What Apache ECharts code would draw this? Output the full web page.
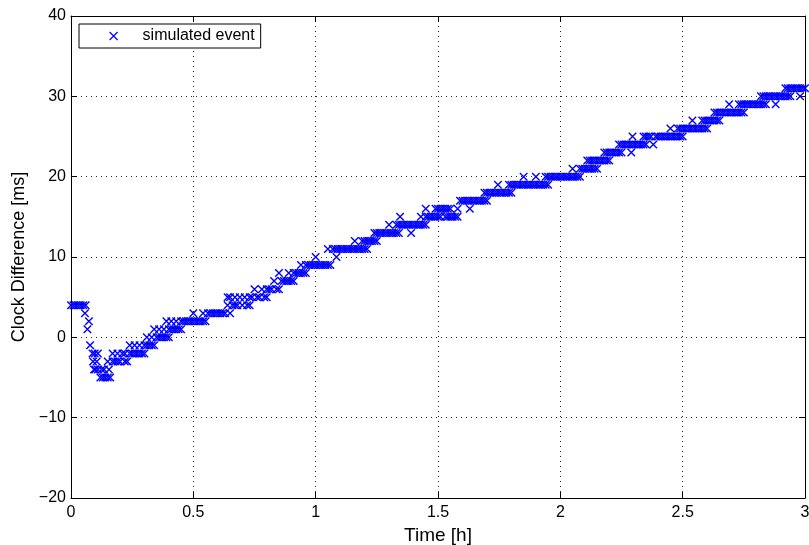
<!DOCTYPE html>
<html>
<head>
<meta charset="utf-8">
<script src="https://cdn.jsdelivr.net/npm/echarts@6/dist/echarts.min.js"></script>
<style>
html,body{margin:0;padding:0;background:#fff;}
#c{width:809px;height:545px;}
</style>
</head>
<body>
<div id="c"></div>
<script>
// Clock difference levels [ms] and the times [h] at which each level was observed
const levels = [4, 3, 2, 1, -1, -2, -3, -4, -5, 0, 5, 6, 7, 8, 9, 10, 11, 12, 13, 14, 15, 16, 17, 18, 19, 20, 21, 22, 23, 24, 25, 26, 27, 28, 29, 30, 31];
const levelTimes = [
  [0, 0.01, 0.02, 0.03, 0.04, 0.05, 0.06, 0.64, 0.66, 0.67, 0.68, 0.70, 0.72, 0.73],
  [0.057, 0.50, 0.54, 0.56, 0.57, 0.58, 0.59, 0.60, 0.61, 0.62, 0.63, 0.65],
  [0.073, 0.39, 0.41, 0.43, 0.45, 0.46, 0.47, 0.48, 0.49, 0.50, 0.51, 0.52, 0.53, 0.54, 0.55],
  [0.067, 0.34, 0.36, 0.38, 0.40, 0.41, 0.42, 0.43, 0.44, 0.45],
  [0.078, 0.24, 0.26, 0.28, 0.30, 0.31, 0.32, 0.33, 0.34],
  [0.088, 0.097, 0.11, 0.17, 0.19, 0.21, 0.22, 0.24, 0.25, 0.26, 0.27, 0.28, 0.29, 0.30],
  [0.09, 0.105, 0.15, 0.17, 0.18, 0.19, 0.20, 0.22, 0.23],
  [0.094, 0.10, 0.11, 0.125, 0.135, 0.155],
  [0.12, 0.13, 0.14, 0.15, 0.16],
  [0.31, 0.33, 0.35, 0.36, 0.37, 0.38, 0.39, 0.40],
  [0.64, 0.65, 0.67, 0.69, 0.71, 0.73, 0.74, 0.76, 0.77, 0.79, 0.80],
  [0.75, 0.78, 0.80, 0.81, 0.82, 0.84, 0.85],
  [0.83, 0.86, 0.87, 0.88, 0.89, 0.90, 0.91],
  [0.85, 0.89, 0.91, 0.92, 0.93, 0.94, 0.95, 0.96],
  [0.94, 0.96, 0.97, 0.98, 0.99, 1.00, 1.01, 1.02, 1.03, 1.04, 1.05, 1.06],
  [1.00, 1.085],
  [1.05, 1.07, 1.08, 1.09, 1.10, 1.11, 1.12, 1.13, 1.14, 1.15, 1.16, 1.17, 1.18, 1.19, 1.20, 1.21],
  [1.16, 1.19, 1.20, 1.21, 1.22, 1.23, 1.24, 1.25],
  [1.24, 1.25, 1.26, 1.27, 1.28, 1.29, 1.30, 1.31, 1.32, 1.33, 1.34, 1.39],
  [1.30, 1.33, 1.34, 1.35, 1.36, 1.37, 1.38, 1.39, 1.40, 1.41, 1.42, 1.43, 1.44, 1.45],
  [1.345, 1.43, 1.45, 1.46, 1.47, 1.48, 1.49, 1.50, 1.51, 1.53, 1.54, 1.55, 1.56, 1.57, 1.58],
  [1.45, 1.49, 1.50, 1.51, 1.52, 1.53, 1.54, 1.55, 1.58, 1.63],
  [1.59, 1.60, 1.61, 1.62, 1.63, 1.64, 1.65, 1.66, 1.67, 1.68, 1.69, 1.70],
  [1.69, 1.70, 1.71, 1.72, 1.73, 1.74, 1.75, 1.76, 1.77, 1.78, 1.79, 1.80],
  [1.745, 1.79, 1.80, 1.81, 1.82, 1.83, 1.84, 1.85, 1.86, 1.87, 1.88, 1.89, 1.90, 1.91, 1.92, 1.93, 1.94, 1.95],
  [1.85, 1.90, 1.94, 1.95, 1.96, 1.97, 1.98, 1.99, 2.00, 2.01, 2.02, 2.03, 2.04, 2.05, 2.06, 2.07, 2.08],
  [2.05, 2.08, 2.09, 2.10, 2.11, 2.12, 2.13, 2.14, 2.15],
  [2.11, 2.12, 2.13, 2.14, 2.15, 2.16, 2.17, 2.18, 2.19, 2.20],
  [2.18, 2.19, 2.20, 2.21, 2.22, 2.23, 2.24, 2.25, 2.29],
  [2.24, 2.25, 2.26, 2.27, 2.28, 2.29, 2.30, 2.31, 2.32, 2.33, 2.34, 2.35, 2.38],
  [2.295, 2.34, 2.35, 2.36, 2.37, 2.39, 2.40, 2.41, 2.42, 2.43, 2.44, 2.45, 2.46, 2.47, 2.48, 2.49, 2.50],
  [2.45, 2.48, 2.49, 2.50, 2.51, 2.52, 2.53, 2.54, 2.55, 2.56, 2.57, 2.58, 2.59, 2.60],
  [2.54, 2.58, 2.59, 2.60, 2.61, 2.62, 2.63, 2.64, 2.65],
  [2.63, 2.64, 2.65, 2.66, 2.67, 2.68, 2.69, 2.70, 2.71, 2.72, 2.73, 2.74, 2.75],
  [2.69, 2.73, 2.74, 2.75, 2.76, 2.77, 2.78, 2.79, 2.80, 2.81, 2.82, 2.83, 2.84, 2.88],
  [2.82, 2.83, 2.84, 2.85, 2.86, 2.87, 2.88, 2.89, 2.90, 2.91, 2.92, 2.93, 2.94, 2.98],
  [2.92, 2.93, 2.94, 2.95, 2.96, 2.97, 2.98, 2.99, 3.00]
];
const xTicks = [0, 0.5, 1, 1.5, 2, 2.5, 3];
const yTicks = [-20, -10, 0, 10, 20, 30, 40];
const seriesName = 'simulated event';

const points = [];
levels.forEach((lv, i) => levelTimes[i].forEach(t => points.push([t, lv])));

const xMark = 'path://M0,0L10,10M10,0L0,10';
const font = 'Liberation Sans, Arial, Helvetica, sans-serif';
const minus = v => String(v).replace('-', '\u2212');

const chart = echarts.init(document.getElementById('c'), null, {renderer: 'canvas'});
const axisCommon = {
  axisLine: {show: true, onZero: false, lineStyle: {color: '#000', width: 1}},
  axisTick: {show: true, inside: true, length: 6, lineStyle: {color: '#000'}},
};
chart.setOption({
  animation: false,
  backgroundColor: '#fff',
  grid: {left: 71, right: 4, top: 16, bottom: 47, containLabel: false, outerBoundsMode: 'none'},
  legend: {
    left: 79, top: 24,
    orient: 'vertical',
    backgroundColor: '#fff',
    borderColor: '#000', borderWidth: 1, borderRadius: 0,
    padding: [4, 6, 4, 30],
    itemWidth: 8, itemHeight: 8, itemGap: 0,
    textStyle: {fontFamily: font, fontSize: 16, color: '#000', padding: [0, 0, 0, 20]},
    data: [{name: seriesName, icon: xMark, itemStyle: {color: 'rgba(0,0,0,0)', borderColor: '#0000ff', borderWidth: 1.2}}]
  },
  xAxis: [{
    type: 'value', min: xTicks[0], max: xTicks[xTicks.length - 1], interval: 0.5,
    name: 'Time [h]', nameLocation: 'middle', nameGap: 24,
    nameTextStyle: {fontFamily: font, fontSize: 19, color: '#000'},
    axisLabel: {fontFamily: font, fontSize: 16, color: '#000', margin: 7},
    splitLine: {show: true, lineStyle: {color: '#222', type: [1, 4], width: 1}},
    ...axisCommon
  }, {
    type: 'value', position: 'top', min: xTicks[0], max: xTicks[xTicks.length - 1], interval: 0.5,
    axisLabel: {show: false}, splitLine: {show: false},
    ...axisCommon
  }],
  yAxis: [{
    type: 'value', min: yTicks[0], max: yTicks[yTicks.length - 1], interval: 10,
    name: 'Clock Difference [ms]', nameLocation: 'middle', nameGap: 42,
    nameTextStyle: {fontFamily: font, fontSize: 18, color: '#000'},
    axisLabel: {fontFamily: font, fontSize: 16, color: '#000', margin: 5, formatter: minus},
    splitLine: {show: true, lineStyle: {color: '#222', type: [1, 4], width: 1}},
    ...axisCommon
  }, {
    type: 'value', position: 'right', min: yTicks[0], max: yTicks[yTicks.length - 1], interval: 10,
    axisLabel: {show: false}, splitLine: {show: false},
    ...axisCommon
  }],
  series: [{
    name: seriesName,
    type: 'scatter',
    data: points,
    symbol: xMark,
    symbolSize: 7.5,
    itemStyle: {color: 'rgba(0,0,0,0)', borderColor: '#0000ff', borderWidth: 1.4, opacity: 1},
    emphasis: {disabled: true}
  }]
});
</script>
</body>
</html>
